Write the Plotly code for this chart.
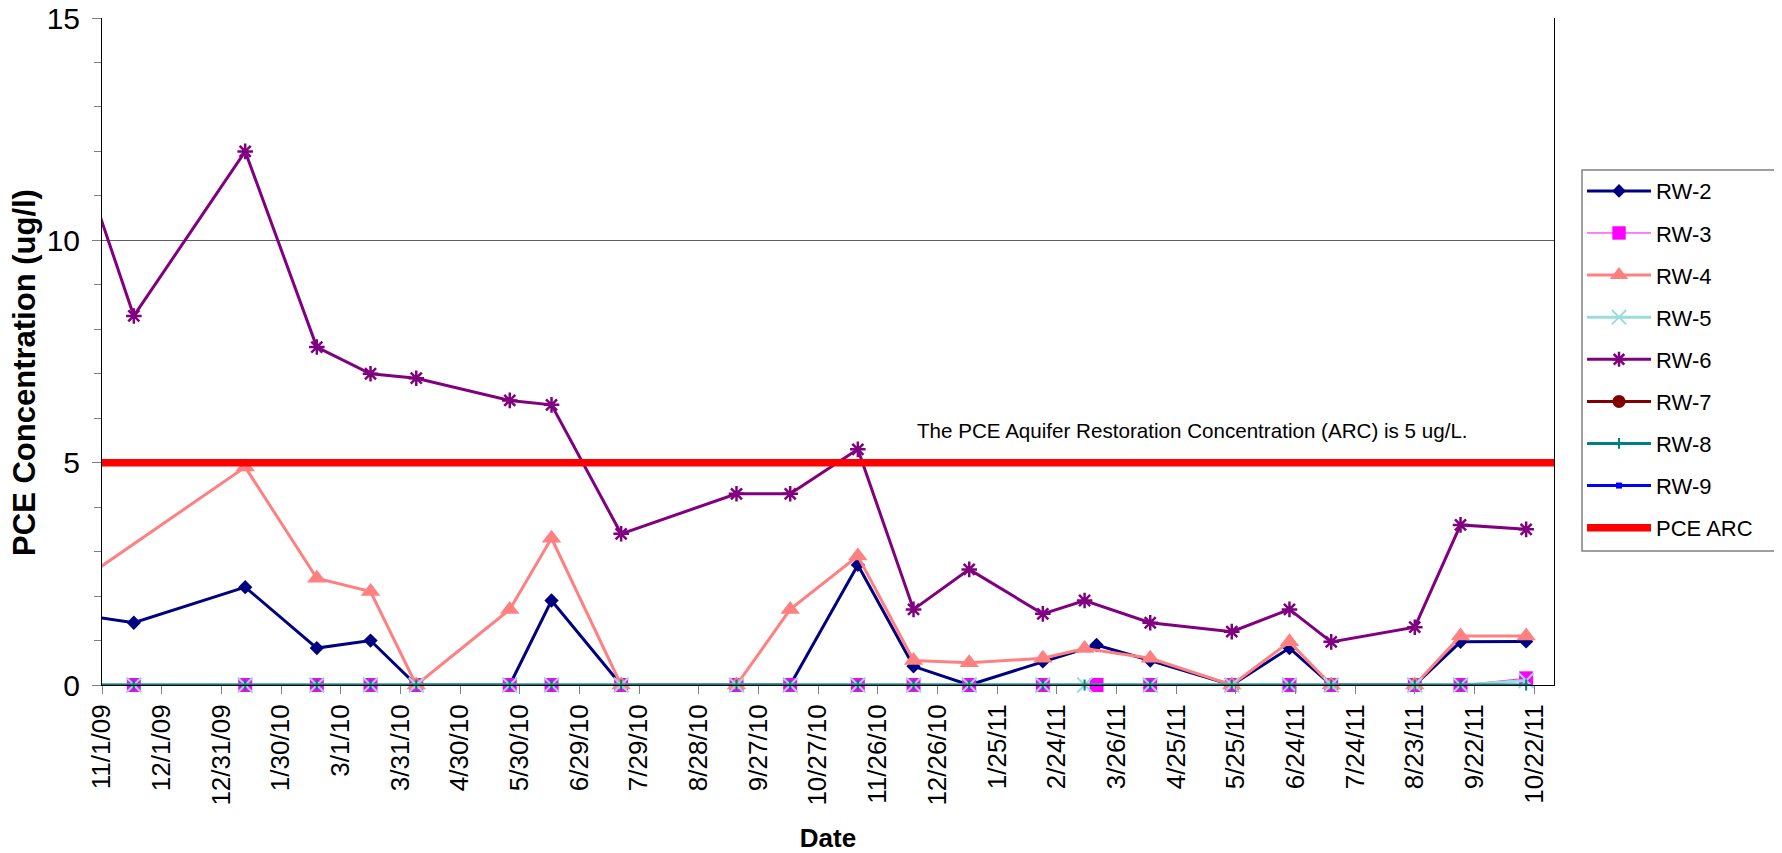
import plotly.graph_objects as go

# ---------------- data ----------------
dates_all = ["2009-10-20", "2009-11-17", "2010-01-12", "2010-02-17", "2010-03-16",
             "2010-04-08", "2010-05-25", "2010-06-15", "2010-07-20", "2010-09-16",
             "2010-10-13", "2010-11-16", "2010-12-14", "2011-01-11", "2011-02-17",
             "2011-03-10", "2011-04-12", "2011-05-23", "2011-06-21", "2011-07-12",
             "2011-08-23", "2011-09-15", "2011-10-18"]

dates_rw2 = ["2009-10-20", "2009-11-17", "2010-01-12", "2010-02-17", "2010-03-16",
             "2010-04-08", "2010-05-25", "2010-06-15", "2010-07-20", "2010-09-16",
             "2010-10-13", "2010-11-16", "2010-12-14", "2011-01-11", "2011-02-17",
             "2011-03-16", "2011-04-12", "2011-05-23", "2011-06-21", "2011-07-12",
             "2011-08-23", "2011-09-15", "2011-10-18"]
rw2 = [1.59, 1.4, 2.2, 0.83, 1.0, 0, 0, 1.9, 0, 0, 0, 2.7, 0.42, 0, 0.53,
       0.9, 0.55, 0, 0.83, 0, 0, 0.97, 0.98]

dates_rw3 = dates_rw2
rw3 = [0, 0, 0, 0, 0, 0, 0, 0, 0, 0, 0, 0, 0, 0, 0, 0, 0, 0, 0, 0, 0, 0, 0.15]

dates_rw4 = ["2009-10-20", "2010-01-12", "2010-02-17", "2010-03-16",
             "2010-04-08", "2010-05-25", "2010-06-15", "2010-07-20", "2010-09-16",
             "2010-10-13", "2010-11-16", "2010-12-14", "2011-01-11", "2011-02-17",
             "2011-03-10", "2011-04-12", "2011-05-23", "2011-06-21", "2011-07-12",
             "2011-08-23", "2011-09-15", "2011-10-18"]
rw4 = [2.31, 4.9, 2.4, 2.1, 0, 1.7, 3.3, 0, 0, 1.7, 2.9, 0.55, 0.5, 0.6,
       0.82, 0.6, 0, 0.97, 0, 0, 1.1, 1.1]

dates_rw5 = dates_all
rw5 = [0, 0, 0, 0, 0, 0, 0, 0, 0, 0, 0, 0, 0, 0, 0, 0, 0, 0, 0, 0, 0, 0, 0.1]

dates_rw6 = dates_all
rw6 = [12.0, 8.3, 12.0, 7.6, 7.0, 6.9, 6.4, 6.3, 3.4, 4.3, 4.3, 5.3, 1.7, 2.6,
       1.6, 1.9, 1.4, 1.2, 1.7, 0.97, 1.3, 3.6, 3.5]

# RW-7 and RW-9: no plotted values (legend entries only)
dates_rw7 = ["2010-04-08"]
rw7 = [None]

dates_rw8 = dates_all
rw8 = [0, 0, 0, 0, 0, 0, 0, 0, 0, 0, 0, 0, 0, 0, 0, 0, 0, 0, 0, 0, 0, 0, 0]

dates_rw9 = ["2010-04-08"]
rw9 = [None]

dates_arc = ["2009-11-01", "2011-11-01"]
arc = [5, 5]

x_range = ["2009-11-01", "2011-11-01"]
tick_dates = ["2009-11-01", "2009-12-01", "2009-12-31", "2010-01-30", "2010-03-01",
              "2010-03-31", "2010-04-30", "2010-05-30", "2010-06-29", "2010-07-29",
              "2010-08-28", "2010-09-27", "2010-10-27", "2010-11-26", "2010-12-26",
              "2011-01-25", "2011-02-24", "2011-03-26", "2011-04-25", "2011-05-25",
              "2011-06-24", "2011-07-24", "2011-08-23", "2011-09-22", "2011-10-22"]
tick_labels = ["11/1/09", "12/1/09", "12/31/09", "1/30/10", "3/1/10", "3/31/10",
               "4/30/10", "5/30/10", "6/29/10", "7/29/10", "8/28/10", "9/27/10",
               "10/27/10", "11/26/10", "12/26/10", "1/25/11", "2/24/11", "3/26/11",
               "4/25/11", "5/25/11", "6/24/11", "7/24/11", "8/23/11", "9/22/11",
               "10/22/11"]
y_ticks = [0, 5, 10, 15]

FONT = "Liberation Sans, Arial, sans-serif"

fig = go.Figure()


def add(name, x, y, color, width, symbol, size, mline=None):
    # points dated before the axis start only feed the clipped lead-in line
    sizes = [0 if d is not None and d < x_range[0] else size for d in x]
    marker = dict(symbol=symbol, size=sizes, color=color, opacity=1)
    if mline is not None:
        marker["line"] = dict(color=color, width=mline)
    else:
        marker["line"] = dict(color=color, width=0)
    fig.add_trace(go.Scatter(
        x=x, y=y, name=name, mode="lines+markers",
        line=dict(color=color, width=width),
        marker=marker, legendgroup=name, cliponaxis=False,
    ))


add("RW-2", dates_rw2, rw2, "#000080", 3, "diamond", 11)
add("RW-3", dates_rw3, rw3, "#FF00FF", 1, "square", 14)
add("RW-4", dates_rw4, rw4, "#FF8080", 3, "triangle-up", 17)
add("RW-5", dates_rw5, rw5, "#99DDDD", 3, "x-thin-open", 15, mline=2)
add("RW-6", dates_rw6, rw6, "#800080", 3, "asterisk-open", 13, mline=2.5)
add("RW-7", dates_rw7, rw7, "#800000", 3, "circle", 13)
add("RW-8", dates_rw8, rw8, "#008080", 3, "cross-thin-open", 8, mline=2)
add("RW-9", dates_rw9, rw9, "#0000FF", 3, "square", 6)
fig.add_trace(go.Scatter(x=dates_arc, y=arc, name="PCE ARC", mode="lines",
                         line=dict(color="#FF0000", width=7.5), legendgroup="PCE ARC"))

fig.add_annotation(
    text="The PCE Aquifer Restoration Concentration (ARC) is 5 ug/L.",
    xref="paper", yref="y", x=0.56, y=5.72, xanchor="left", yanchor="middle",
    showarrow=False, font=dict(family=FONT, size=20.6, color="#000000"),
)
# y-axis title
fig.add_annotation(
    text="<b>PCE Concentration (ug/l)</b>", textangle=-90,
    xref="paper", yref="paper", x=-0.053, y=0.468, xanchor="center", yanchor="middle",
    showarrow=False, font=dict(family=FONT, size=31, color="#000000"),
)
# legend frame
fig.add_shape(type="rect", xref="paper", yref="paper",
              x0=1.0193, x1=1.1522, y0=0.2009, y1=0.7721,
              line=dict(color="#808080", width=1.5), fillcolor="rgba(0,0,0,0)",
              layer="above")

fig.update_layout(
    width=1774, height=845,
    margin=dict(l=94, r=228, t=10, b=168, autoexpand=False),
    paper_bgcolor="white", plot_bgcolor="white",
    font=dict(family=FONT, color="#000000"),
    showlegend=True,
    legend=dict(
        x=1.0193, y=0.772, xanchor="left", yanchor="top",
        borderwidth=0, bgcolor="rgba(0,0,0,0)",
        font=dict(family=FONT, size=22), tracegroupgap=10.5,
        itemwidth=64,
    ),
    xaxis=dict(
        type="date", range=x_range, automargin=False,
        tickmode="array", tickvals=tick_dates, ticktext=tick_labels,
        tickangle=-90, tickfont=dict(family=FONT, size=26),
        ticks="outside", ticklen=8, tickcolor="#808080", tickwidth=1,
        showline=True, linecolor="#000000", linewidth=1,
        showgrid=False, zeroline=False, ticklabeloverflow="allow",
        title=dict(text="<b>Date</b>", font=dict(family=FONT, size=26), standoff=30),
    ),
    yaxis=dict(
        range=[0, 15], tickmode="array", tickvals=y_ticks, automargin=False,
        tickfont=dict(family=FONT, size=30), ticklabeloverflow="allow",
        ticks="outside", ticklen=9, tickcolor="#808080", tickwidth=1,
        minor=dict(dtick=1, ticks="outside", ticklen=7, tickcolor="#808080", showgrid=False),
        showline=True, linecolor="#000000", linewidth=1, mirror=True,
        showgrid=True, gridcolor="#606060", gridwidth=1, zeroline=False,
        ticklabelstandoff=6,
    ),
)

fig.write_html("out.html")
